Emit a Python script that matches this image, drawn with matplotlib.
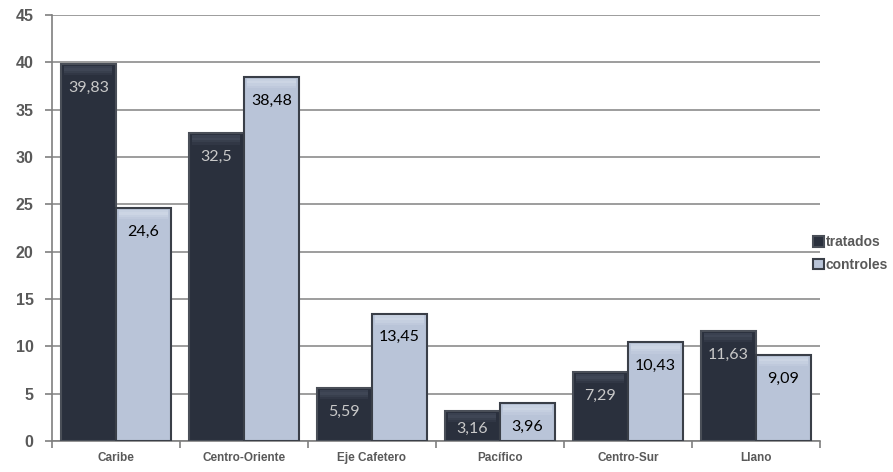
import matplotlib.pyplot as plt
import numpy as np

regiones = ["Caribe", "Centro-Oriente", "Eje Cafetero", "Pacífico", "Centro-Sur", "Llano"]
tratados = [39.83, 32.5, 5.59, 3.16, 7.29, 11.63]
controles = [24.6, 38.48, 13.45, 3.96, 10.43, 9.09]

plt.rcParams['font.family'] = ['Lato', 'DejaVu Sans']
negrita = ['Liberation Sans', 'DejaVu Sans']

fig = plt.figure(figsize=(8.93, 4.72), dpi=100)
ax = fig.add_axes([0.058, 0.066, 0.86, 0.902])

x = np.arange(len(regiones))
w = 0.43
gris = "#7f7f7f"

b1 = ax.bar(x - w / 2, tratados, w, color="#2a303d", edgecolor="#4a4f58", linewidth=1.5,
            label="tratados", zorder=3)
b2 = ax.bar(x + w / 2, controles, w, color="#b9c4d8", edgecolor="#3a3f48", linewidth=1.5,
            label="controles", zorder=3)

# soft bevel near top of each bar
for bars, hl in ((b1, "#5a6274"), (b2, "#e4eaf3")):
    for r in bars:
        for k, a in enumerate((0.15, 0.3, 0.45, 0.35)):
            ax.bar(r.get_x() + r.get_width() / 2, 0.25, r.get_width() * 0.88,
                   bottom=r.get_height() - 1.2 + k * 0.25, color=hl, alpha=a,
                   zorder=4, linewidth=0)

for vals, pos, col in ((tratados, x - w / 2, "#c9c9c9"), (controles, x + w / 2, "black")):
    for xi, v in zip(pos, vals):
        ax.text(xi, max(v - 2.5, 1.3), f"{v:g}".replace(".", ","), ha="center", va="center",
                fontsize=11.5, color=col, zorder=5)

ax.set_xlim(-0.5, len(regiones) - 0.5)
ax.set_ylim(0, 45)
ax.set_yticks(range(0, 46, 5))
ax.set_yticklabels([str(v) for v in range(0, 46, 5)], family=negrita, fontweight="bold",
                   fontsize=11.5, color="#595959")
ax.yaxis.grid(True, color="#8c8c8c", linewidth=1.2, zorder=0)
ax.set_axisbelow(True)

ax.set_xticks(x)
ax.set_xticklabels(regiones, family=negrita, fontsize=8.5, fontweight="bold", color="#595959")
ax.set_xticks(np.arange(-0.5, len(regiones), 1), minor=True)
ax.tick_params(axis="x", which="major", length=0, pad=8)
ax.tick_params(axis="x", which="minor", length=5, color=gris, width=1.2)
ax.tick_params(axis="y", length=5, color=gris, width=1.2, pad=8)

for s in ("top", "right"):
    ax.spines[s].set_visible(False)
for s in ("left", "bottom"):
    ax.spines[s].set_color(gris)
    ax.spines[s].set_linewidth(1.2)

leg = ax.legend(handles=[b1, b2], loc="center left", bbox_to_anchor=(0.975, 0.44),
                frameon=False, handlelength=0.8, handleheight=0.8, handletextpad=0.1,
                labelspacing=0.6, prop={"family": negrita, "weight": "bold", "size": 10})
for t in leg.get_texts():
    t.set_color("#595959")

fig.savefig("out.png", dpi=100)
